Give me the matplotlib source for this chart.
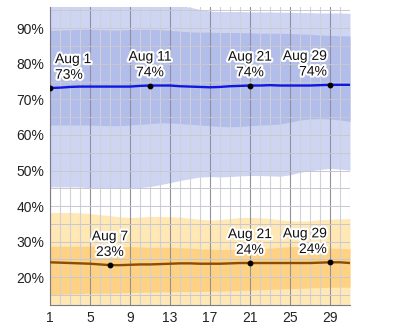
import matplotlib
matplotlib.use("Agg")
import matplotlib.pyplot as plt
import matplotlib.patheffects as pe
import numpy as np

plt.rcParams['font.family'] = ['Liberation Sans', 'DejaVu Sans']

days = np.arange(1, 32)

# upper group (blue): 10th/25th/50th/75th/90th percentile per day
blue_p90 = [96.5, 96.5, 96.5, 96.5, 96.5, 96.5, 96.5, 96.5, 96.5, 96.5, 96.5, 96.5, 96.5, 96.4, 95.9, 95.3,
            94.8, 94.7, 94.7, 94.7, 94.6, 94.6, 94.6, 94.5, 94.5, 94.4, 94.4, 94.3, 94.3, 94.3, 94.2]
blue_p75 = [89.4, 89.5, 89.6, 89.7, 89.7, 89.6, 89.5, 89.5, 89.6, 89.7, 89.7, 89.6, 89.4, 89.2, 89.0, 88.9,
            88.9, 88.8, 88.8, 88.8, 88.7, 88.6, 88.6, 88.6, 88.5, 88.4, 88.3, 88.1, 88.0, 87.9, 87.8]
blue_p50 = [73.2, 73.3, 73.5, 73.6, 73.6, 73.6, 73.6, 73.6, 73.6, 73.8, 73.9, 73.9, 73.9, 73.7, 73.6, 73.5,
            73.4, 73.5, 73.7, 73.8, 73.9, 73.9, 74.0, 73.9, 73.9, 73.9, 73.9, 74.0, 74.1, 74.1, 74.1]
blue_p25 = [62.8, 62.8, 62.8, 62.8, 62.8, 62.7, 62.6, 62.6, 62.8, 63.0, 63.2, 63.4, 63.4, 63.2, 63.0, 62.8,
            62.6, 62.4, 62.3, 62.4, 62.6, 62.8, 62.9, 63.1, 63.6, 64.2, 64.5, 64.6, 64.5, 64.2, 63.8]
blue_p10 = [45.4, 45.4, 45.4, 45.4, 45.1, 45.0, 45.0, 45.0, 45.0, 45.2, 45.5, 46.0, 46.6, 47.2, 47.7, 48.2,
            48.3, 48.2, 48.3, 48.5, 48.6, 48.6, 48.5, 48.4, 48.8, 49.5, 49.9, 50.3, 50.6, 50.4, 50.1]

# lower group (orange)
orange_p90 = [38.2, 38.2, 38.2, 38.1, 37.9, 37.6, 37.3, 37.0, 36.8, 36.9, 37.1, 37.1, 37.0, 36.9, 36.6, 36.3,
              36.1, 36.2, 36.5, 36.8, 36.8, 36.7, 36.5, 36.2, 35.9, 35.8, 35.9, 36.2, 36.3, 36.4, 36.5]
orange_p75 = [28.7, 28.7, 28.7, 28.7, 28.7, 28.7, 28.7, 28.6, 28.6, 28.5, 28.4, 28.4, 28.4, 28.3, 28.2, 28.0,
              27.9, 27.8, 27.8, 27.8, 27.9, 28.0, 28.2, 28.4, 28.6, 28.6, 28.5, 28.3, 28.2, 28.1, 28.0]
orange_p50 = [24.2, 24.1, 24.0, 23.9, 23.8, 23.6, 23.4, 23.4, 23.5, 23.6, 23.6, 23.7, 23.8, 23.9, 23.9, 23.8,
              23.8, 23.8, 23.9, 24.0, 24.0, 24.0, 24.0, 24.0, 24.0, 24.0, 24.0, 24.1, 24.2, 24.2, 24.0]
orange_p25 = [15.1, 15.2, 15.3, 15.4, 15.5, 15.5, 15.5, 15.6, 15.7, 15.8, 15.8, 15.9, 15.9, 16.0, 16.0, 16.0,
              16.1, 16.1, 16.2, 16.3, 16.4, 16.5, 16.6, 16.7, 16.8, 16.9, 17.0, 17.1, 17.2, 17.2, 17.2]
orange_p10 = [10.0] * 31

blue_marks = [1, 11, 21, 29]
orange_marks = [7, 21, 29]
xticks = [1, 5, 9, 13, 17, 21, 25, 29]
yticks = [20, 30, 40, 50, 60, 70, 80, 90]

fig = plt.figure(figsize=(4, 3.29), dpi=100)
ax = fig.add_axes([0.125, 0.073, 0.75, 0.906])

ax.fill_between(days, blue_p10, blue_p90, color='#cdd5f2', lw=0)
ax.fill_between(days, blue_p25, blue_p75, color='#b2bde9', lw=0)
ax.fill_between(days, orange_p10, orange_p90, color='#ffe8b4', lw=0)
ax.fill_between(days, orange_p25, orange_p75, color='#fed282', lw=0)

# grid drawn over the bands
for d in days:
    major = d in xticks
    ax.axvline(d, color='#9090a0' if major else '#d0d0d8', lw=0.8, zorder=2)
for v in range(15, 100, 5):
    ax.axhline(v, color='#c8c8d2', lw=0.7, zorder=2)

ax.plot(days, blue_p50, color='#1018e0', lw=1.7, zorder=3)
ax.plot(days, orange_p50, color='#8a4c06', lw=1.7, zorder=3)

halo = [pe.withStroke(linewidth=3, foreground='white')]

def mark(series, d, ha):
    val = series[d - 1]
    ax.plot(d, val, 'o', color='black', ms=3.2, zorder=4)
    shift = {'left': 0.5, 'center': 0, 'right': -0.3}[ha]
    ax.annotate(f"Aug {d}\n{round(val)}%", (d + shift, val), xytext=(0, 4.5),
                textcoords='offset points', ha=ha, va='bottom', multialignment=ha,
                fontsize=10, color='#111111', path_effects=halo, zorder=5,
                linespacing=1.15)

for d in blue_marks:
    mark(blue_p50, d, 'left' if d == 1 else ('right' if d == 29 else 'center'))
for d in orange_marks:
    mark(orange_p50, d, 'right' if d == 29 else 'center')

ax.set_xlim(1, 31)
ax.set_ylim(12.2, 96)
ax.set_xticks(xticks)
ax.set_yticks(yticks)
ax.set_yticklabels([f"{v}%" for v in yticks])
ax.tick_params(length=0, labelsize=10, colors='#222222', pad=4)

for s in ['top', 'right']:
    ax.spines[s].set_visible(False)
ax.spines['left'].set_color('#7c7c88')
ax.spines['bottom'].set_color('#7c7c88')

fig.savefig('out.png', dpi=100)
